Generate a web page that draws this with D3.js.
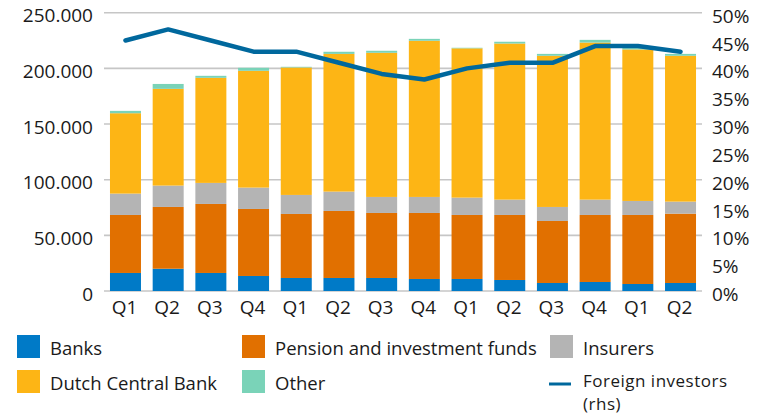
<!DOCTYPE html>
<html>
<head>
<meta charset="utf-8">
<script src="https://cdn.jsdelivr.net/npm/d3@7"></script>
<style>
  html, body { margin: 0; padding: 0; background: #fff; }
  svg { display: block; font-family: "Open Sans", sans-serif; }
</style>
</head>
<body>
<svg id="chart" width="765" height="415"></svg>
<script>
// ---- data ----
const quarters = ["Q1","Q2","Q3","Q4","Q1","Q2","Q3","Q4","Q1","Q2","Q3","Q4","Q1","Q2"];
const banks    = [16200, 20000, 16200, 13500, 11700, 11700, 11700, 10800, 10800, 9900, 7200, 8100, 6300, 7200];
const pension  = [52100, 55500, 62000, 60200, 57500, 60200, 58400, 59300, 57500, 58400, 55700, 60200, 62000, 62300];
const insurers = [19200, 19200, 18900, 19200, 17100, 17400, 14400, 14400, 15600, 13800, 12600, 13800, 12600, 10800];
const dcb      = [72200, 86900, 94400, 104900, 114500, 123700, 129500, 140300, 134100, 140200, 135800, 141100, 136100, 131000];
const other    = [2100, 4400, 1800, 2700, 600, 1900, 1800, 1700, 500, 1600, 1700, 2400, 1200, 1700];
const foreign  = [45, 47, 45, 43, 43, 41, 39, 38, 40, 41, 41, 44, 44, 43];
const leftTicks  = [0, 50000, 100000, 150000, 200000, 250000];
const rightTicks = [0, 5, 10, 15, 20, 25, 30, 35, 40, 45, 50];

const seriesKeys   = ["banks","pension","insurers","dcb","other"];
const seriesNames  = {banks:"Banks", pension:"Pension and investment funds", insurers:"Insurers", dcb:"Dutch Central Bank", other:"Other"};
const seriesColors = {banks:"#007AC7", pension:"#E17000", insurers:"#B4B4B4", dcb:"#FDB515", other:"#7AD3B8"};
const lineColor = "#00689D";

const rows = quarters.map((q, i) => ({
  idx: i, q,
  banks: banks[i], pension: pension[i], insurers: insurers[i], dcb: dcb[i], other: other[i],
  foreign: foreign[i]
}));

// ---- layout ----
const svg = d3.select("#chart");
const plot = {left: 104, right: 702, top: 12.7, bottom: 291};

const x = d3.scaleBand()
  .domain(rows.map(d => d.idx))
  .range([plot.left, plot.right])
  .paddingInner(0.274)
  .paddingOuter(0.14);

const yL = d3.scaleLinear().domain([0, 250000]).range([plot.bottom, plot.top]);
const yR = d3.scaleLinear().domain([0, 50]).range([plot.bottom, plot.top]);

const fmt = v => d3.format(",")(v).replace(/,/g, ".");

// gridlines
svg.append("g").selectAll("line")
  .data(leftTicks)
  .join("line")
  .attr("x1", plot.left).attr("x2", plot.right)
  .attr("y1", d => yL(d)).attr("y2", d => yL(d))
  .attr("stroke", "#C6C6C6").attr("stroke-width", 1.6);

// stacked bars
const stack = d3.stack().keys(seriesKeys)(rows);
svg.append("g").selectAll("g")
  .data(stack)
  .join("g")
  .attr("fill", s => seriesColors[s.key])
  .selectAll("rect")
  .data(s => s)
  .join("rect")
  .attr("x", d => x(d.data.idx))
  .attr("width", x.bandwidth())
  .attr("y", d => yL(d[1]))
  .attr("height", d => yL(d[0]) - yL(d[1]));

// line
const line = d3.line()
  .x(d => x(d.idx) + x.bandwidth() / 2)
  .y(d => yR(d.foreign));
svg.append("path")
  .datum(rows)
  .attr("d", line)
  .attr("fill", "none")
  .attr("stroke", lineColor)
  .attr("stroke-width", 4.5)
  .attr("stroke-linejoin", "round")
  .attr("stroke-linecap", "round");

// left axis labels
svg.append("g").selectAll("text")
  .data(leftTicks)
  .join("text")
  .attr("x", 93).attr("y", d => yL(d) + 9.5)
  .attr("text-anchor", "end")
  .attr("font-size", 19).attr("fill", "#1a1a1a")
  .text(fmt);

// right axis labels
svg.append("g").selectAll("text")
  .data(rightTicks)
  .join("text")
  .attr("x", 712).attr("y", d => yR(d) + 10)
  .attr("text-anchor", "start")
  .attr("font-size", 19).attr("fill", "#1a1a1a")
  .text(d => d + "%");

// x labels
svg.append("g").selectAll("text")
  .data(rows)
  .join("text")
  .attr("x", d => x(d.idx) + x.bandwidth() / 2 - 1)
  .attr("y", 314)
  .attr("text-anchor", "middle")
  .attr("font-size", 19).attr("fill", "#1a1a1a")
  .text(d => d.q);

// legend
const legendItems = [
  {key: "banks", x: 17, y: 335},
  {key: "pension", x: 242, y: 335},
  {key: "insurers", x: 550, y: 335},
  {key: "dcb", x: 17, y: 370},
  {key: "other", x: 242, y: 370}
];
const lg = svg.append("g");
legendItems.forEach(it => {
  lg.append("rect")
    .attr("x", it.x).attr("y", it.y)
    .attr("width", 23).attr("height", 23)
    .attr("fill", seriesColors[it.key]);
  lg.append("text")
    .attr("x", it.x + 33).attr("y", it.y + 20)
    .attr("font-size", 18.5).attr("fill", "#1a1a1a")
    .text(seriesNames[it.key]);
});
lg.append("line")
  .attr("x1", 549).attr("x2", 571)
  .attr("y1", 384).attr("y2", 384)
  .attr("stroke", lineColor).attr("stroke-width", 3);
lg.append("text")
  .attr("x", 583).attr("y", 387)
  .attr("font-size", 17).attr("letter-spacing", 0.5).attr("fill", "#1a1a1a")
  .text("Foreign investors");
lg.append("text")
  .attr("x", 583).attr("y", 410)
  .attr("font-size", 17).attr("letter-spacing", 0.5).attr("fill", "#1a1a1a")
  .text("(rhs)");
</script>
</body>
</html>
